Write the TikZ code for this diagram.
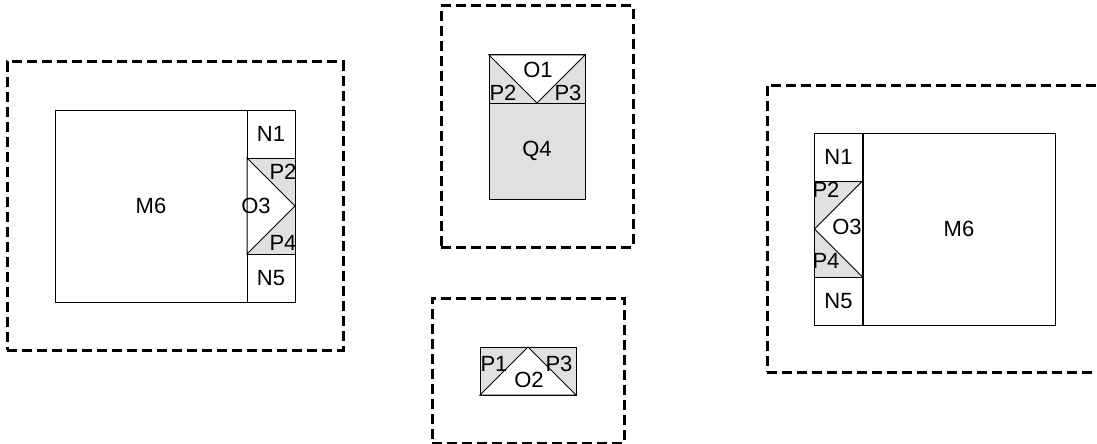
\documentclass[tikz,border=0pt]{standalone}
\usepackage{fontspec}
\setmainfont{Liberation Sans}
\begin{document}
\begin{tikzpicture}[x=1pt,y=-1pt,
  frame/.style={draw=black, line width=3pt, dash pattern=on 10pt off 5pt, rectangle, inner sep=0pt, outer sep=0pt},
  box/.style={draw=black, line width=1pt, rectangle, inner sep=0pt, outer sep=0pt, fill=white},
  grayblk/.style={draw=black, line width=1pt, rectangle, inner sep=0pt, outer sep=0pt, fill=shade},
  lbl/.style={inner sep=0pt, font=\fontsize{22}{26}\selectfont},
  diag/.style={draw=black, line width=1pt, fill=white}]
\definecolor{shade}{HTML}{E0E0E0}
\useasboundingbox (0,0) rectangle (1097,444);
\fill[white] (0,0) rectangle (1097,444);

% ---- left panel ----
\node[frame, minimum width=336, minimum height=288] (frL) at (175,206) {};
\node[box, minimum width=192, minimum height=192, lbl] (m6L) at (151,206) {M6};
\node[box, minimum width=48, minimum height=48, lbl] (n1L) at (271,134) {N1};
\node[grayblk, minimum width=48, minimum height=96] (o3L) at (271,206) {};
\path[diag] (o3L.north west) -- (o3L.east) -- (o3L.south west) -- cycle;
\node[box, minimum width=48, minimum height=48, lbl] (n5L) at (271,278) {N5};
\node[lbl] (p2L) at (283,172) {P2};
\node[lbl] (o3Lt) at (256,206) {O3};
\node[lbl] (p4L) at (283,243) {P4};

% ---- middle top panel ----
\node[frame, minimum width=192, minimum height=241] (frT) at (537,126.5) {};
\node[grayblk, minimum width=96, minimum height=48] (o1blk) at (537,79) {};
\path[diag] (o1blk.north west) -- (o1blk.north east) -- (o1blk.south) -- cycle;
\node[grayblk, minimum width=96, minimum height=96, lbl] (q4) at (537,151) {Q4};
\node[lbl] (o1t) at (538,70) {O1};
\node[lbl] (p2T) at (503,93) {P2};
\node[lbl] (p3T) at (568,93) {P3};

% ---- middle bottom panel ----
\node[frame, minimum width=192, minimum height=145] (frB) at (528,370.5) {};
\node[grayblk, minimum width=96, minimum height=48] (o2blk) at (528,371) {};
\path[diag] (o2blk.south west) -- (o2blk.north) -- (o2blk.south east) -- cycle;
\node[lbl] (p1B) at (494,364) {P1};
\node[lbl] (p3B) at (559,364) {P3};
\node[lbl] (o2t) at (529,380) {O2};

% ---- right panel ----
\node[frame, minimum width=336, minimum height=287] (frR) at (935,228.5) {};
\node[box, minimum width=48, minimum height=48, lbl] (n1R) at (838.5,157) {N1};
\node[grayblk, minimum width=48, minimum height=96] (o3R) at (838.5,229) {};
\path[diag] (o3R.north east) -- (o3R.west) -- (o3R.south east) -- cycle;
\node[box, minimum width=48, minimum height=48, lbl] (n5R) at (838.5,301) {N5};
\node[box, minimum width=192, minimum height=192, lbl] (m6R) at (959,229) {M6};
\node[lbl] (p2R) at (826,190) {P2};
\node[lbl] (o3Rt) at (847,227) {O3};
\node[lbl] (p4R) at (826,261) {P4};
\end{tikzpicture}
\end{document}
